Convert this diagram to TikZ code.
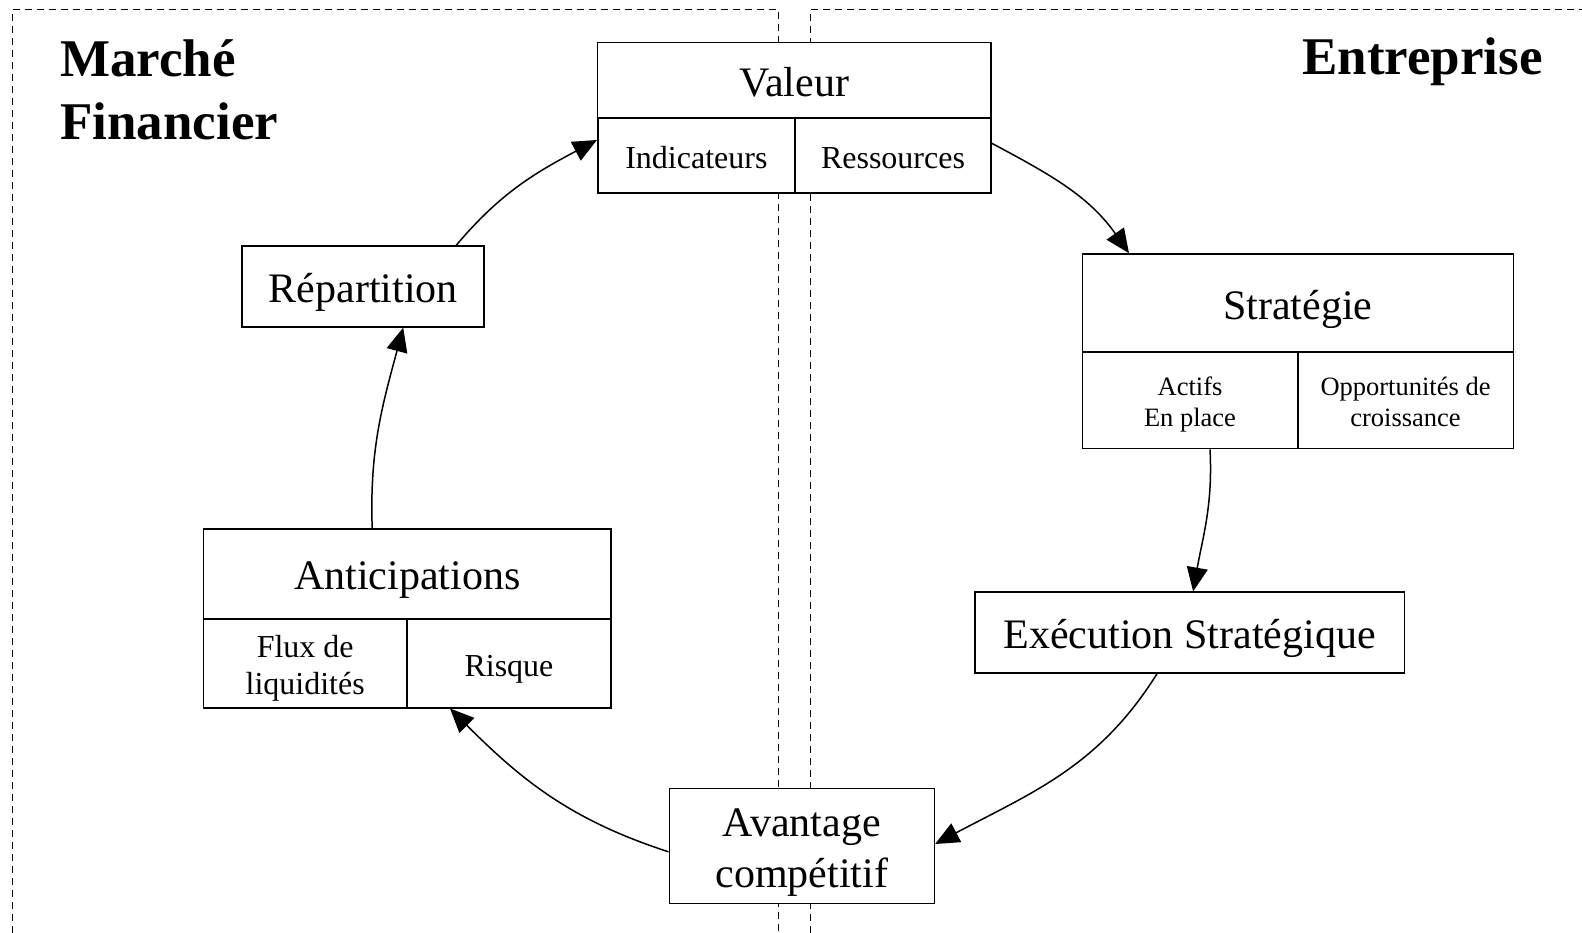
\documentclass[tikz,border=0pt]{standalone}
\usepackage{fontspec}
\setmainfont{Liberation Serif}
\usetikzlibrary{arrows.meta}
\newcommand\mainStrut{\rule[-0.22em]{0pt}{1.21em}}
\newcommand\subStrut{\rule[-0.22em]{0pt}{1.24em}}
\newcommand\firstStrut[1]{\rule{0pt}{#1em}}
\newcommand\lastStrut{\rule[-0.22em]{0pt}{0pt}}
\tikzset{
  cell/.style={draw, fill=white, line width=1.6pt, inner sep=0pt, align=center},
  bigtxt/.style={font=\fontsize{42}{50.5}\selectfont},
  midtxt/.style={font=\fontsize{32}{37.5}\selectfont},
  smalltxt/.style={font=\fontsize{26.5}{31}\selectfont},
  titletxt/.style={font=\fontsize{53}{60}\selectfont\bfseries},
  zone/.style={line width=1.4pt, dash pattern=on 7pt off 5pt},
  flow/.style={line width=1.5pt, -{Triangle[length=24pt,width=21pt]}}
}
\begin{document}
\begin{tikzpicture}[x=1pt,y=1pt]
\useasboundingbox (0,0) rectangle (1582,-933);
% zones
\draw[zone] (12.3,-933) -- (12.3,-9.3) -- (778.3,-9.3) -- (778.3,-933);
\draw[zone] (810.7,-933) -- (810.7,-9.3) -- (1582,-9.3);
% titles
\node[titletxt, anchor=base west, inner sep=0pt] (t1) at (60,-77) {Marché};
\node[titletxt, anchor=base west, inner sep=0pt] (t2) at (60,-140) {Financier};
\node[titletxt, anchor=base east, inner sep=0pt] (t3) at (1543,-75) {Entreprise};
% Valeur
\node[cell, bigtxt, minimum width=393.3pt, minimum height=75.6pt] (valH) at (794.3,-80.5) {\mainStrut Valeur};
\node[cell, midtxt, minimum width=197.3pt, minimum height=75pt] (valL) at (696.4,-155.8) {\subStrut Indicateurs};
\node[cell, midtxt, minimum width=196pt, minimum height=75pt] (valR) at (893,-155.8) {\subStrut Ressources};
% Strategie
\node[cell, bigtxt, minimum width=431pt, minimum height=98pt] (strH) at (1297.8,-303) {\mainStrut Stratégie};
\node[cell, smalltxt, minimum width=215.4pt, minimum height=96.7pt] (strL) at (1190,-400.3) {\firstStrut{1.05}Actifs\\En place\lastStrut};
\node[cell, smalltxt, minimum width=215.6pt, minimum height=96.7pt] (strR) at (1405.5,-400.3) {\firstStrut{1.05}Opportunités de\\croissance\lastStrut};
% Execution
\node[cell, bigtxt, minimum width=429.8pt, minimum height=80.7pt] (exe) at (1189.6,-632.6) {\mainStrut Exécution Stratégique};
% Avantage
\node[cell, bigtxt, minimum width=265pt, minimum height=115pt] (ava) at (801.8,-845.8) {\firstStrut{1.0}Avantage\\compétitif\lastStrut};
% Anticipations
\node[cell, bigtxt, minimum width=407.7pt, minimum height=89.7pt] (antH) at (407.2,-573.8) {\mainStrut Anticipations};
\node[cell, midtxt, minimum width=203.7pt, minimum height=89pt] (antL) at (305.2,-663.2) {\firstStrut{1.02}Flux de\\liquidités\lastStrut};
\node[cell, midtxt, minimum width=204pt, minimum height=89pt] (antR) at (509,-663.2) {\subStrut Risque};
% Repartition
\node[cell, bigtxt, minimum width=242pt, minimum height=80.7pt] (rep) at (363.2,-286.5) {\mainStrut Répartition};
% connectors
\draw[flow] ([yshift=12.5pt]valR.east) to[out=-28, in=125] ([xshift=-168.8pt]strH.north);
\draw[flow] ([xshift=20pt]strL.south) to[out=-87, in=80] ([xshift=3.5pt]exe.north);
\draw[flow] ([xshift=-32.6pt]exe.south) to[out=-122, in=28] ([yshift=1.8pt]ava.east);
\draw[flow] ([yshift=-6pt]ava.west) to[out=162, in=-45] ([xshift=-59pt]antR.south);
\draw[flow] ([xshift=-35pt]antH.north) to[out=92, in=-105] ([xshift=40pt]rep.south);
\draw[flow] ([xshift=93pt]rep.north) to[out=50, in=-152] ([yshift=15.8pt]valL.west);
\end{tikzpicture}
\end{document}
